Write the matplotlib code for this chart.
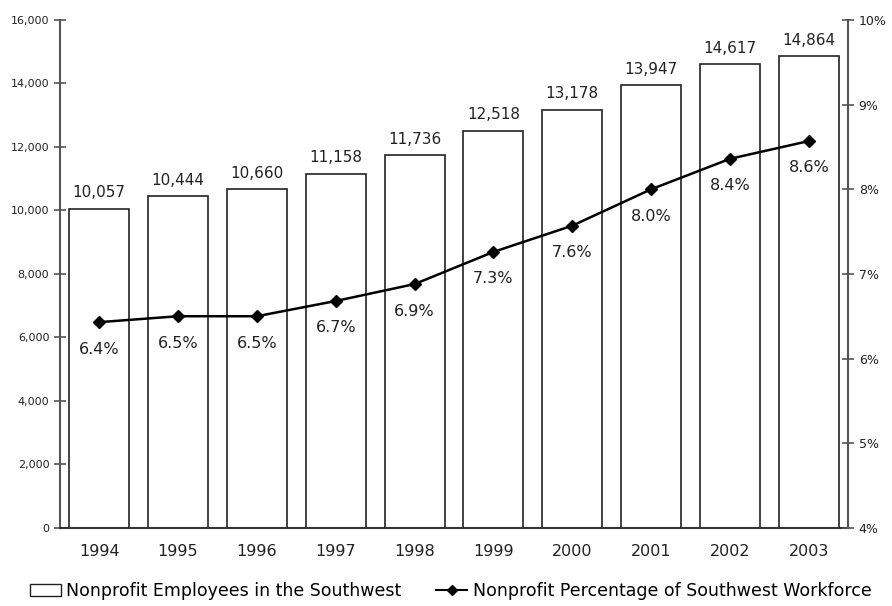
import matplotlib
matplotlib.use("Agg")
import matplotlib.pyplot as plt
from matplotlib.ticker import FuncFormatter
from matplotlib.lines import Line2D
from matplotlib.patches import Patch

years = ['1994', '1995', '1996', '1997', '1998', '1999', '2000', '2001', '2002', '2003']
employees = [10057, 10444, 10660, 11158, 11736, 12518, 13178, 13947, 14617, 14864]
pct = [6.43, 6.50, 6.50, 6.68, 6.88, 7.26, 7.57, 8.00, 8.36, 8.57]
pct_labels = ['6.4%', '6.5%', '6.5%', '6.7%', '6.9%', '7.3%', '7.6%', '8.0%', '8.4%', '8.6%']

plt.rcParams['font.family'] = ['DejaVu Sans']
axcol = '#555555'
txtcol = '#222222'

fig = plt.figure(figsize=(8.92, 6.06), dpi=100)
ax = fig.add_axes([0.067, 0.129, 0.884, 0.838])
x = range(len(years))

# bars: employees
ax.bar(x, employees, width=0.76, color='white', edgecolor='#222222', linewidth=1.2, zorder=2)
for i, v in enumerate(employees):
    ax.annotate(f'{v:,}', (i, v), xytext=(0, 6), textcoords='offset points',
                ha='center', va='bottom', fontsize=11, color=txtcol)

ax.set_xlim(-0.5, len(years) - 0.5)
ax.set_ylim(0, 16000)
ax.set_yticks(range(0, 16001, 2000))
ax.yaxis.set_major_formatter(FuncFormatter(lambda v, p: f'{int(v):,}'))
ax.set_xticks(list(x))
ax.set_xticklabels(years, fontsize=11.5, color=txtcol)
ax.tick_params(axis='x', length=0, pad=12)
ax.tick_params(axis='y', direction='inout', length=8, width=1.2, color=axcol,
               labelsize=8, labelcolor=txtcol)
for s in ['top', 'right']:
    ax.spines[s].set_visible(False)
ax.spines['left'].set_color(axcol)
ax.spines['left'].set_linewidth(1.5)
ax.spines['bottom'].set_color('#333333')
ax.spines['bottom'].set_linewidth(1.5)

# line: percentage of workforce
ax2 = ax.twinx()
ax2.plot(list(x), pct, color='black', marker='D', markersize=6, linewidth=1.8, zorder=3)
for i, v in enumerate(pct):
    ax2.annotate(pct_labels[i], (i, v), xytext=(0, -14), textcoords='offset points',
                 ha='center', va='top', fontsize=11.5, color=txtcol)
ax2.set_ylim(4, 10)
ax2.set_yticks(range(4, 11))
ax2.yaxis.set_major_formatter(FuncFormatter(lambda v, p: f'{int(v)}%'))
ax2.tick_params(axis='y', direction='inout', length=8, width=1.2, color=axcol,
                labelsize=9, labelcolor=txtcol)
for s in ['top', 'left', 'bottom']:
    ax2.spines[s].set_visible(False)
ax2.spines['right'].set_color(axcol)
ax2.spines['right'].set_linewidth(1.5)

handles = [Patch(facecolor='white', edgecolor='#222222', linewidth=1.0),
           Line2D([], [], color='black', marker='D', markersize=5, linewidth=1.5)]
fig.legend(handles, ['Nonprofit Employees in the Southwest',
                     'Nonprofit Percentage of Southwest Workforce'],
           loc='center', bbox_to_anchor=(0.505, 0.024), ncol=2, frameon=False,
           fontsize=12.5, handlelength=1.8, handletextpad=0.3, columnspacing=2.0)

fig.savefig('out.png', dpi=100)
